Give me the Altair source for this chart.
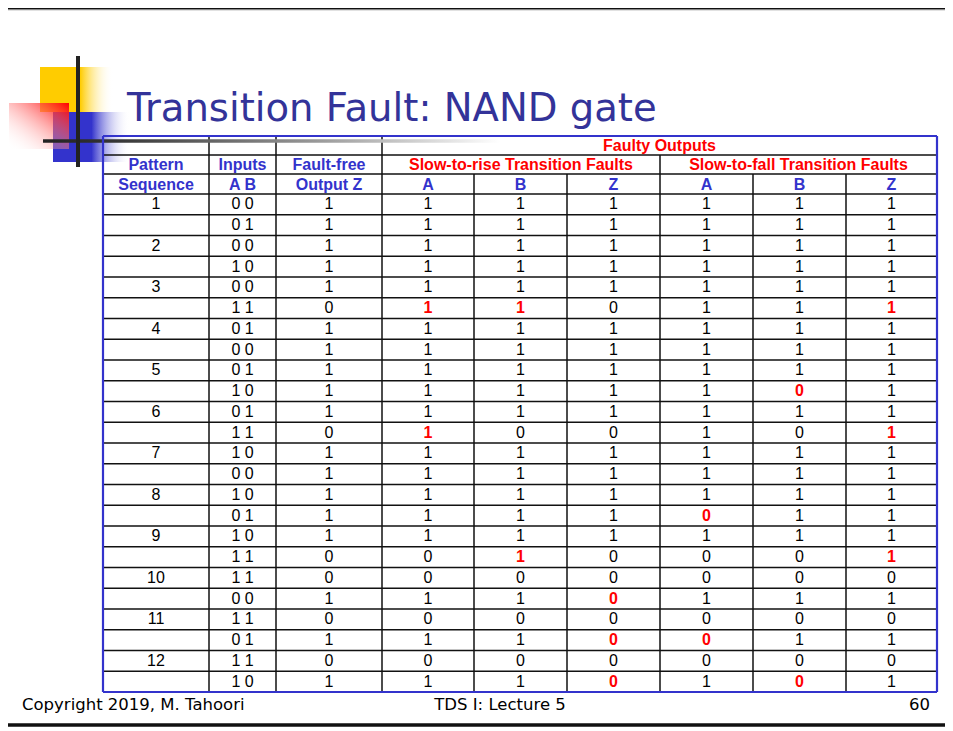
import altair as alt
import pandas as pd

# ---------------- data ----------------
title = "Transition Fault: NAND gate"
footer_left = "Copyright 2019, M. Tahoori"
footer_mid = "TDS I: Lecture 5"
footer_right = "60"

pattern_seq = ["1", "", "2", "", "3", "", "4", "", "5", "", "6", "",
               "7", "", "8", "", "9", "", "10", "", "11", "", "12", ""]
inputs_ab = ["0 0", "0 1", "0 0", "1 0", "0 0", "1 1", "0 1", "0 0",
             "0 1", "1 0", "0 1", "1 1", "1 0", "0 0", "1 0", "0 1",
             "1 0", "1 1", "1 1", "0 0", "1 1", "0 1", "1 1", "1 0"]
fault_free_z = [1, 1, 1, 1, 1, 0, 1, 1, 1, 1, 1, 0, 1, 1, 1, 1, 1, 0, 0, 1, 0, 1, 0, 1]
str_a = [1, 1, 1, 1, 1, 1, 1, 1, 1, 1, 1, 1, 1, 1, 1, 1, 1, 0, 0, 1, 0, 1, 0, 1]
str_b = [1, 1, 1, 1, 1, 1, 1, 1, 1, 1, 1, 0, 1, 1, 1, 1, 1, 1, 0, 1, 0, 1, 0, 1]
str_z = [1, 1, 1, 1, 1, 0, 1, 1, 1, 1, 1, 0, 1, 1, 1, 1, 1, 0, 0, 0, 0, 0, 0, 0]
stf_a = [1, 1, 1, 1, 1, 1, 1, 1, 1, 1, 1, 1, 1, 1, 1, 0, 1, 0, 0, 1, 0, 0, 0, 1]
stf_b = [1, 1, 1, 1, 1, 1, 1, 1, 1, 0, 1, 0, 1, 1, 1, 1, 1, 0, 0, 1, 0, 1, 0, 0]
stf_z = [1, 1, 1, 1, 1, 1, 1, 1, 1, 1, 1, 1, 1, 1, 1, 1, 1, 1, 0, 1, 0, 1, 0, 1]

# rows where a faulty output differs from the fault-free output (shown in red)
red_str_a = [5, 11]
red_str_b = [5, 17]
red_str_z = [19, 21, 23]
red_stf_a = [15, 21]
red_stf_b = [9, 23]
red_stf_z = [5, 11, 17]

header_row1 = ["Pattern", "Inputs", "Fault-free"]
header_row2 = ["Sequence", "A B", "Output Z", "A", "B", "Z", "A", "B", "Z"]
group_top = "Faulty Outputs"
group_rise = "Slow-to-rise Transition Faults"
group_fall = "Slow-to-fall Transition Faults"

# ---------------- layout constants ----------------
COL_EDGES = [103, 209, 276, 382, 474, 567, 660, 753, 846, 937]
HEAD_Y = [136, 155, 174, 194]
TABLE_BOTTOM = 692
N_ROWS = len(inputs_ab)
ROW_H = (TABLE_BOTTOM - HEAD_Y[3]) / N_ROWS

BLUE = "#3333CC"
TITLE_BLUE = "#333399"
RED = "#FF0000"
FONT = "Liberation Sans"

# page coordinates: the chart sits inside the 8px page margin
xs = alt.Scale(domain=[8, 945], nice=False, zero=False)
ys = alt.Scale(domain=[8, 731], nice=False, zero=False, reverse=True)


def ex(f="x"):
    return alt.X(f"{f}:Q", scale=xs, axis=None)


def ey(f="y"):
    return alt.Y(f"{f}:Q", scale=ys, axis=None)


def center(i):
    return (COL_EDGES[i] + COL_EDGES[i + 1]) / 2


def row_center(r):
    return HEAD_Y[3] + ROW_H * (r + 0.5)


# ---------------- cell table ----------------
columns = [pattern_seq, inputs_ab, fault_free_z, str_a, str_b, str_z, stf_a, stf_b, stf_z]
reds = {3: red_str_a, 4: red_str_b, 5: red_str_z, 6: red_stf_a, 7: red_stf_b, 8: red_stf_z}
cells = []
for ci, col in enumerate(columns):
    for r, v in enumerate(col):
        cells.append({"x": center(ci), "y": row_center(r), "text": str(v),
                      "red": r in reds.get(ci, [])})
cells = pd.DataFrame(cells)
black_cells = cells[~cells["red"]]
red_cells = cells[cells["red"]]

blue_heads = []
for i, t in enumerate(header_row1):
    blue_heads.append({"x": center(i), "y": (HEAD_Y[1] + HEAD_Y[2]) / 2 + 0.8, "text": t})
for i, t in enumerate(header_row2):
    blue_heads.append({"x": center(i), "y": (HEAD_Y[2] + HEAD_Y[3]) / 2 + 0.8, "text": t})
blue_heads = pd.DataFrame(blue_heads)

red_heads = pd.DataFrame([
    {"x": (COL_EDGES[3] + COL_EDGES[9]) / 2, "y": (HEAD_Y[0] + HEAD_Y[1]) / 2 + 0.8, "text": group_top},
    {"x": (COL_EDGES[3] + COL_EDGES[6]) / 2, "y": (HEAD_Y[1] + HEAD_Y[2]) / 2 + 0.8, "text": group_rise},
    {"x": (COL_EDGES[6] + COL_EDGES[9]) / 2, "y": (HEAD_Y[1] + HEAD_Y[2]) / 2 + 0.8, "text": group_fall},
])

# grid lines
segs = []
for yy in HEAD_Y[1:]:
    segs.append({"x": COL_EDGES[0], "x2": COL_EDGES[-1], "y": yy, "y2": yy})
for r in range(1, N_ROWS):
    yy = HEAD_Y[3] + ROW_H * r
    segs.append({"x": COL_EDGES[0], "x2": COL_EDGES[-1], "y": yy, "y2": yy})
for ci in (1, 2, 3):
    segs.append({"x": COL_EDGES[ci], "x2": COL_EDGES[ci], "y": HEAD_Y[0], "y2": TABLE_BOTTOM})
segs.append({"x": COL_EDGES[6], "x2": COL_EDGES[6], "y": HEAD_Y[1], "y2": TABLE_BOTTOM})
for ci in (4, 5, 7, 8):
    segs.append({"x": COL_EDGES[ci], "x2": COL_EDGES[ci], "y": HEAD_Y[2], "y2": TABLE_BOTTOM})
segs = pd.DataFrame(segs)

border = pd.DataFrame([
    {"x": COL_EDGES[0], "x2": COL_EDGES[-1], "y": HEAD_Y[0], "y2": HEAD_Y[0]},
    {"x": COL_EDGES[0], "x2": COL_EDGES[-1], "y": TABLE_BOTTOM, "y2": TABLE_BOTTOM},
    {"x": COL_EDGES[0], "x2": COL_EDGES[0], "y": HEAD_Y[0], "y2": TABLE_BOTTOM},
    {"x": COL_EDGES[-1], "x2": COL_EDGES[-1], "y": HEAD_Y[0], "y2": TABLE_BOTTOM},
])


def rect_layer(x, x2, y, y2, fill):
    d = pd.DataFrame([{"x": x, "x2": x2, "y": y, "y2": y2}])
    return alt.Chart(d).mark_rect(fill=fill, strokeWidth=0).encode(
        x=ex(), x2=alt.X2("x2"), y=ey(), y2=alt.Y2("y2"))


def grad(stops, x1=0, y1=0, x2=1, y2=0):
    return alt.LinearGradient(
        gradient="linear",
        stops=[alt.GradientStop(offset=o, color=c) for o, c in stops],
        x1=x1, y1=y1, x2=x2, y2=y2)


def rules(d, color, width):
    return alt.Chart(d).mark_rule(color=color, strokeWidth=width).encode(
        x=ex(), x2=alt.X2("x2"), y=ey(), y2=alt.Y2("y2"))


def texts(d, color, size, weight="normal", font=FONT, align="center", baseline="middle"):
    return alt.Chart(d).mark_text(color=color, fontSize=size, fontWeight=weight, font=font,
                                  align=align, baseline=baseline).encode(
        x=ex(), y=ey(), text="text:N")


# slide decorations
yellow = rect_layer(40, 113, 67, 112, grad([(0, "#FFCC00"), (0.55, "#FFCC00"), (1, "rgba(255,255,255,0)")]))
blue_sq = rect_layer(53, 130, 112, 162, grad([(0, BLUE), (0.5, BLUE), (1, "rgba(255,255,255,0)")]))
red_sq = rect_layer(9, 69, 103, 149, grad([(0, "#FF0000"), (1, "rgba(255,255,255,0)")], x1=1, y1=0, x2=0, y2=1))
hbar = rect_layer(43, 500, 139.3, 142.7, grad([(0, "#222222"), (0.15, "#333333"), (0.6, "#999999"), (1, "#FFFFFF")]))
vbar = rect_layer(76, 80, 56, 167, "#222222")

top_line = pd.DataFrame([{"x": 8, "x2": 945, "y": 7.5, "y2": 7.5}])
top_shadow = pd.DataFrame([{"x": 8, "x2": 945, "y": 9.6, "y2": 9.6}])
bot_line = pd.DataFrame([{"x": 8, "x2": 945, "y": 725, "y2": 725}])

title_df = pd.DataFrame([{"x": 127, "y": 120.5, "text": title}])
foot_l = pd.DataFrame([{"x": 22, "y": 705, "text": footer_left}])
foot_m = pd.DataFrame([{"x": 500, "y": 705, "text": footer_mid}])
foot_r = pd.DataFrame([{"x": 930, "y": 705, "text": footer_right}])

chart = alt.layer(
    rules(top_line, "#111111", 3),
    rules(top_shadow, "#888888", 1.2),
    rules(bot_line, "#111111", 3.5),
    yellow, blue_sq, red_sq,
    texts(title_df, TITLE_BLUE, 38.6, font="DejaVu Sans", align="left", baseline="alphabetic"),
    rules(segs, "#111111", 1.5),
    hbar, vbar,
    rules(border, BLUE, 2.2),
    texts(blue_heads, BLUE, 16, weight="bold"),
    texts(red_heads, RED, 16, weight="bold"),
    texts(black_cells, "#000000", 16),
    texts(red_cells, RED, 16, weight="bold"),
    texts(foot_l, "#000000", 16.5, font="DejaVu Sans", align="left"),
    texts(foot_m, "#000000", 16.5, font="DejaVu Sans", align="center"),
    texts(foot_r, "#000000", 16.5, font="DejaVu Sans", align="right"),
).properties(
    width=937, height=723,
    autosize=alt.AutoSizeParams(type="none"),
    padding=0,
    background="white",
).configure_view(stroke=None)

chart.save("out.html", embed_options={"renderer": "svg", "actions": False})
